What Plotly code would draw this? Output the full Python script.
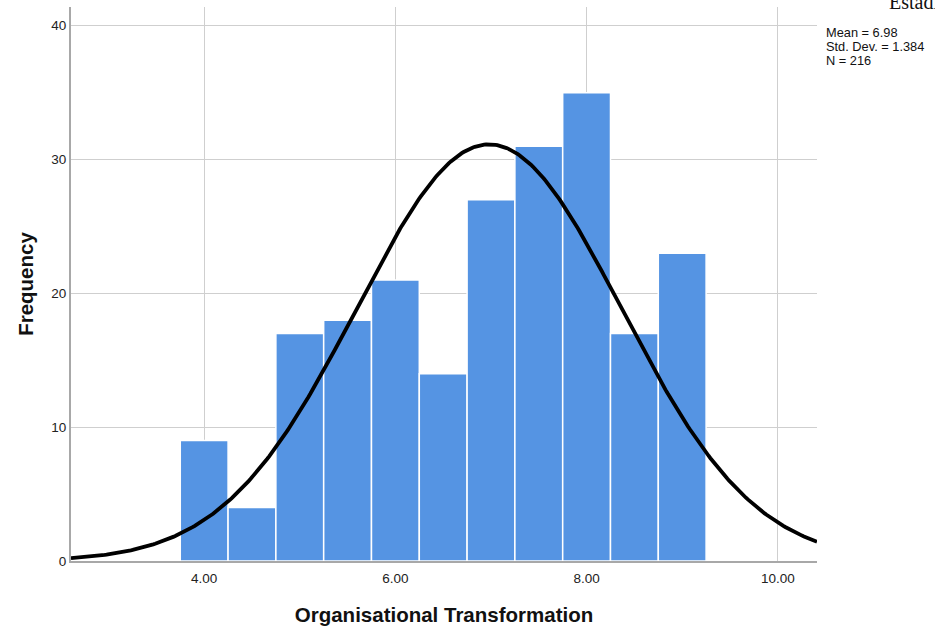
import numpy as np
import plotly.graph_objects as go

# Histogram bins (width 0.5) and their counts
bin_centers = [4.0, 4.5, 5.0, 5.5, 6.0, 6.5, 7.0, 7.5, 8.0, 8.5, 9.0]
counts = [9, 4, 17, 18, 21, 14, 27, 31, 35, 17, 23]
bin_width = 0.5

# Summary statistics
mean = 6.98
std_dev = 1.384
n = 216

x_ticks = [4, 6, 8, 10]
x_tick_labels = ["4.00", "6.00", "8.00", "10.00"]
y_ticks = [0, 10, 20, 30, 40]

x_range = [2.607, 10.41]
y_range = [0, 41.4]

# Fitted normal curve scaled to counts
xs = np.linspace(x_range[0], x_range[1], 400)
ys = n * bin_width / (std_dev * np.sqrt(2 * np.pi)) * np.exp(-0.5 * ((xs - mean) / std_dev) ** 2)

fig = go.Figure()
fig.add_trace(go.Bar(
    x=bin_centers, y=counts, width=bin_width,
    marker=dict(color="#5594E3", line=dict(color="white", width=1.5)),
    hoverinfo="skip",
))
fig.add_trace(go.Scatter(
    x=xs, y=ys, mode="lines",
    line=dict(color="black", width=3.8),
    hoverinfo="skip",
))

# Statistics box, one line per annotation for tight spacing
stat_lines = [f"Mean = {mean:.2f}", f"Std. Dev. = {std_dev:.3f}", f"N = {n}"]
annotations = [
    dict(xref="paper", yref="paper", x=1.0, y=1.0, xshift=8, yshift=-25 - 14 * i,
         xanchor="left", yanchor="middle", align="left", showarrow=False,
         borderpad=0, text=line, font=dict(size=12.8, color="#111"))
    for i, line in enumerate(stat_lines)
]
annotations.append(
    dict(xref="paper", yref="paper", x=1.0, y=1.0, xshift=70, yshift=18,
         xanchor="left", yanchor="top", showarrow=False,
         text="Estadísticos",
         font=dict(family="Liberation Serif, Times New Roman, serif", size=20, color="#111"))
)

fig.update_layout(
    width=935, height=631,
    margin=dict(l=71, r=118, t=7, b=70),
    paper_bgcolor="white", plot_bgcolor="white",
    showlegend=False,
    font=dict(family="Liberation Sans, Arial, sans-serif", color="#222"),
    xaxis=dict(
        range=x_range, tickvals=x_ticks, ticktext=x_tick_labels,
        showgrid=True, gridcolor="#cfcfcf", gridwidth=1,
        showline=True, linecolor="#a8a8a8", linewidth=2,
        ticks="outside", ticklen=4, tickcolor="rgba(0,0,0,0)",
        tickfont=dict(size=13.5), zeroline=False,
        title=dict(text="<b>Organisational Transformation</b>",
                   font=dict(size=20.5, color="#111"), standoff=22),
    ),
    yaxis=dict(
        range=y_range, tickvals=y_ticks,
        showgrid=True, gridcolor="#cfcfcf", gridwidth=1,
        showline=True, linecolor="#a8a8a8", linewidth=2,
        ticks="", tickfont=dict(size=13.5), zeroline=False,
        title=dict(text="<b>Frequency</b>",
                   font=dict(size=20.5, color="#111"), standoff=12),
    ),
    annotations=annotations,
)

fig.write_html("out.html")
